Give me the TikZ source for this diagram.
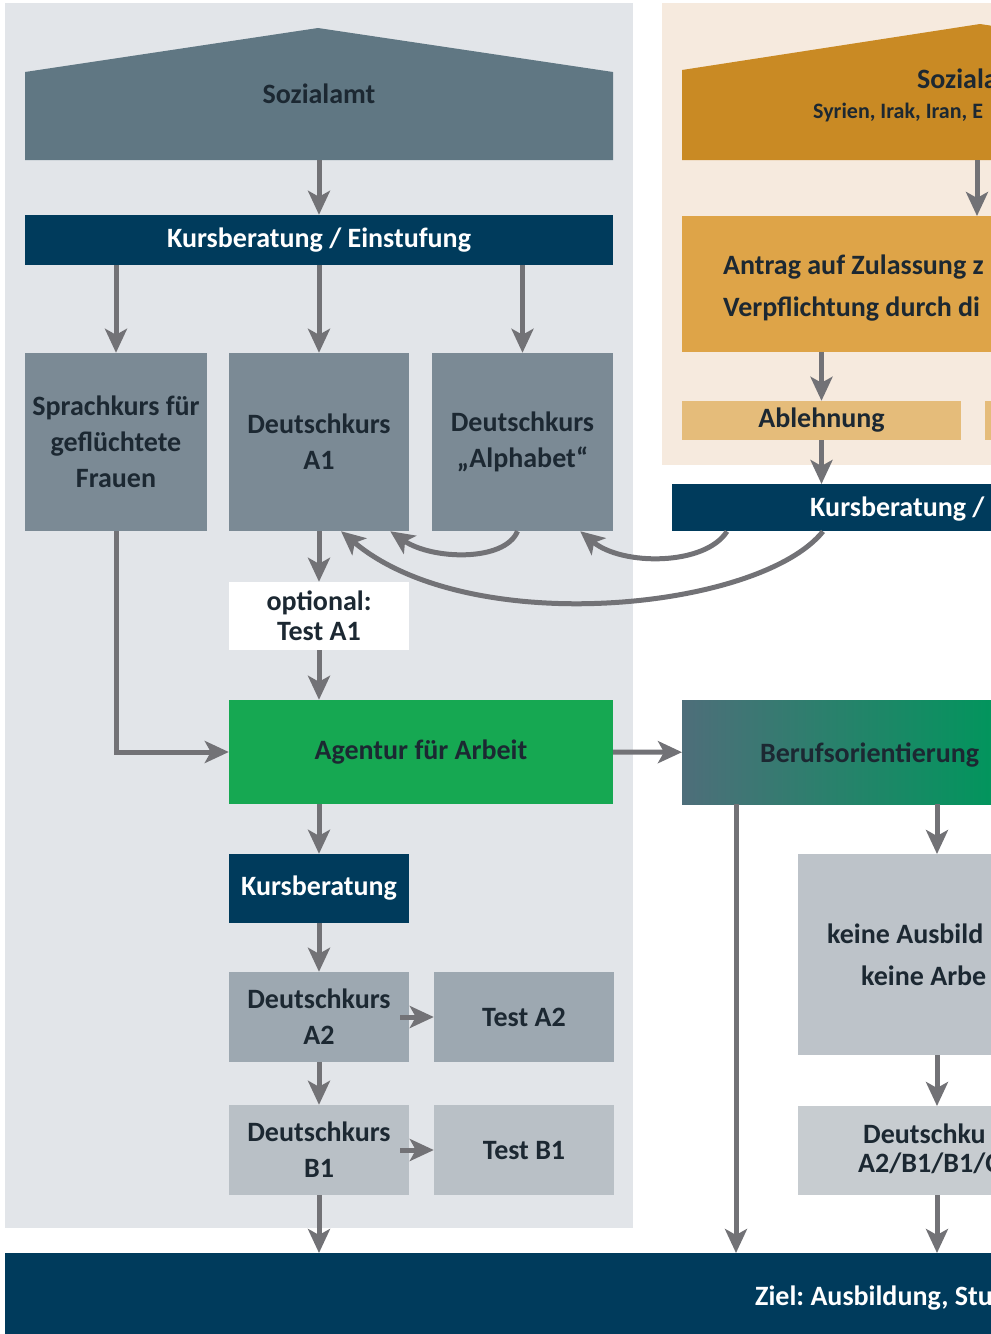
\documentclass[tikz,border=0pt]{standalone}
\usepackage{fontspec}
\setmainfont{Carlito}
\frenchspacing
\usetikzlibrary{arrows.meta}

\definecolor{panelL}{RGB}{226,229,233}
\definecolor{panelR}{RGB}{246,234,222}
\definecolor{houseL}{RGB}{96,119,131}
\definecolor{houseR}{RGB}{201,138,36}
\definecolor{navy}{RGB}{0,59,92}
\definecolor{slate}{RGB}{123,138,149}
\definecolor{slateA}{RGB}{157,168,177}
\definecolor{slateB}{RGB}{185,192,198}
\definecolor{greyR}{RGB}{189,195,201}
\definecolor{greyRB}{RGB}{199,204,208}
\definecolor{agentur}{RGB}{22,168,82}
\definecolor{antrag}{RGB}{222,164,72}
\definecolor{ablehn}{RGB}{229,188,122}
\definecolor{berufL}{RGB}{78,110,122}
\definecolor{berufR}{RGB}{0,150,92}
\definecolor{ink}{RGB}{28,40,50}
\definecolor{arrowgrey}{RGB}{114,114,118}

\tikzset{
    box/.style={fill=slate, text=ink, align=center, inner sep=0pt,
        font=\fontsize{28}{36}\selectfont\bfseries},
    navybox/.style={box, fill=navy, text=white},
    cutbox/.style={anchor=north west, inner sep=0pt},
    txt/.style={anchor=base west, inner sep=0pt, text=ink,
        font=\fontsize{28}{36}\selectfont\bfseries},
    arr/.style={draw=arrowgrey, line width=5pt,
        -{Stealth[length=24pt, width=22pt, inset=6pt]}},
}

\begin{document}
\begin{tikzpicture}[x=1pt, y=-1pt]

    \useasboundingbox (0,0) rectangle (991,1334);
    \clip (0,0) rectangle (991,1334);

    %% Panels
    \fill[panelL] (5,3) rectangle (633,1228);
    \fill[panelR] (662,3) rectangle (1100,465);

    %% Left column

    % Sozialamt
    \fill[houseL] (25,160) -- (25,72) -- (318,28) -- (613,72) -- (613,160) -- cycle;
    \node[box, fill=none, minimum width=588, minimum height=132] (sozL) at (319,94) {Sozialamt};

    % Kursberatung / Einstufung
    \node[navybox, minimum width=588, minimum height=50] (kbL) at (319,240) {Kursberatung / Einstufung};

    % Courses
    \node[box, minimum width=182, minimum height=178] (frauen) at (116,442) {Sprachkurs für\\geflüchtete\\Frauen};
    \node[box, minimum width=180, minimum height=178] (a1) at (319,442) {Deutschkurs\\A1};
    \node[box, minimum width=181, minimum height=178] (alpha) at (522.5,442) {Deutschkurs\\„Alphabet“};

    % Test A1
    \node[box, fill=white, minimum width=180, minimum height=68] (testA1) at (319,616) {optional:\\[-6pt]Test A1};

    % Agentur
    \node[box, fill=agentur, minimum width=384, minimum height=104] (agentur) at (421,752) {Agentur für Arbeit};
    \node[navybox, minimum width=180, minimum height=69] (kb2) at (319,888.5) {Kursberatung};

    % A2 and B1
    \node[box, fill=slateA, minimum width=180, minimum height=90] (a2) at (319,1017) {Deutschkurs\\A2};
    \node[box, fill=slateA, minimum width=180, minimum height=90] (ta2) at (524,1017) {Test A2};
    \node[box, fill=slateB, minimum width=180, minimum height=90] (b1) at (319,1150) {Deutschkurs\\B1};
    \node[box, fill=slateB, minimum width=180, minimum height=90] (tb1) at (524,1150) {Test B1};

    %% Right column

    % Sozialamt
    \fill[houseR] (682,160) -- (682,70) -- (980,24) -- (1100,42) -- (1100,160) -- cycle;
    \node[cutbox, minimum width=418, minimum height=136] (sozR) at (682,24) {};
    \node[txt] (sozRt) at (917,88) {Soziala};
    \node[txt, font=\fontsize{22}{26}\selectfont\bfseries] (sozRs) at (813,118) {Syrien, Irak, Iran, E};
    \coordinate (sx) at (977,0);

    % Antrag
    \node[cutbox, fill=antrag, minimum width=418, minimum height=136] (antrag) at (682,216) {};
    \node[txt] (antragA) at (723,274) {Antrag auf Zulassung z};
    \node[txt] (antragB) at (723,316) {Verpflichtung durch di};

    % Ablehnung
    \node[box, fill=ablehn, minimum width=279, minimum height=39] (ablehnung) at (821.5,420.5) {Ablehnung};
    \node[cutbox, fill=ablehn, minimum width=100, minimum height=39] (ablR) at (985,401) {};

    % Kursberatung
    \node[cutbox, fill=navy, minimum width=428, minimum height=47] (kbR) at (672,484) {};
    \node[txt, text=white] (kbRt) at (810,516) {Kursberatung /};

    % Berufsorientierung
    \node[cutbox, left color=berufL, right color=berufR, minimum width=318, minimum height=104] (beruf) at (682,700) {};
    \node[txt] (berufT) at (760,762) {Berufsorientierung};
    \coordinate (kx) at (937,0);
    \coordinate (bx) at (736,0);

    \node[cutbox, fill=greyR, minimum width=302, minimum height=201] (keine) at (798,854) {};
    \node[txt] (keineA) at (827,943) {keine Ausbild};
    \node[txt] (keineB) at (861,985) {keine Arbe};

    \node[cutbox, fill=greyRB, minimum width=302, minimum height=89] (dkR) at (798,1106) {};
    \node[txt] (dkRa) at (863,1143) {Deutschku};
    \node[txt] (dkRb) at (858,1172) {A2/B1/B1/C};

    % Ziel
    \node[cutbox, fill=navy, minimum width=1100, minimum height=90] (ziel) at (5,1253) {};
    \node[txt, text=white] (zielT) at (755,1305) {Ziel: Ausbildung, Stu};

    %% Arrows
    \draw[arr] (sozL.south) -- (kbL.north);
    \draw[arr] (kbL.south -| frauen.north) -- (frauen.north);
    \draw[arr] (kbL.south -| a1.north) -- (a1.north);
    \draw[arr] (kbL.south -| alpha.north) -- (alpha.north);
    \draw[arr] (a1.south) -- (testA1.north);
    \draw[arr] (testA1.south) -- (agentur.north -| testA1.south);
    \draw[arr] (frauen.south) |- (agentur.west);
    \draw[arr] (agentur.south -| kb2.north) -- (kb2.north);
    \draw[arr] (kb2.south) -- (a2.north);
    \draw[arr] ([xshift=-9pt]a2.east) -- (ta2.west);
    \draw[arr] (a2.south) -- (b1.north);
    \draw[arr] ([xshift=-9pt]b1.east) -- (tb1.west);
    \draw[arr] (b1.south) -- (ziel.north -| b1.south);
    \draw[arr] (agentur.east) -- (beruf.west);

    \draw[arr] (sozR.south -| sx) -- (antrag.north -| sx);
    \draw[arr] (antrag.south -| ablehnung.north) -- (ablehnung.north);
    \draw[arr] (ablehnung.south) -- (kbR.north -| ablehnung.south);
    \draw[arr] (beruf.south -| bx) -- (ziel.north -| bx);
    \draw[arr] (beruf.south -| kx) -- (keine.north -| kx);
    \draw[arr] (keine.south -| kx) -- (dkR.north -| kx);
    \draw[arr] (dkR.south -| kx) -- (ziel.north -| kx);

    % Back to the courses
    \draw[arr] ([xshift=-5pt]alpha.south) .. controls (505,562) and (432,560) .. ([xshift=-19pt]a1.south east);
    \draw[arr] ([xshift=55pt]kbR.south west) .. controls (705,566) and (622,566) .. ([xshift=-33pt]alpha.south east);
    \draw[arr] ([xshift=151pt]kbR.south west) .. controls (760,610) and (470,640) .. ([xshift=22pt]a1.south);

\end{tikzpicture}
\end{document}
